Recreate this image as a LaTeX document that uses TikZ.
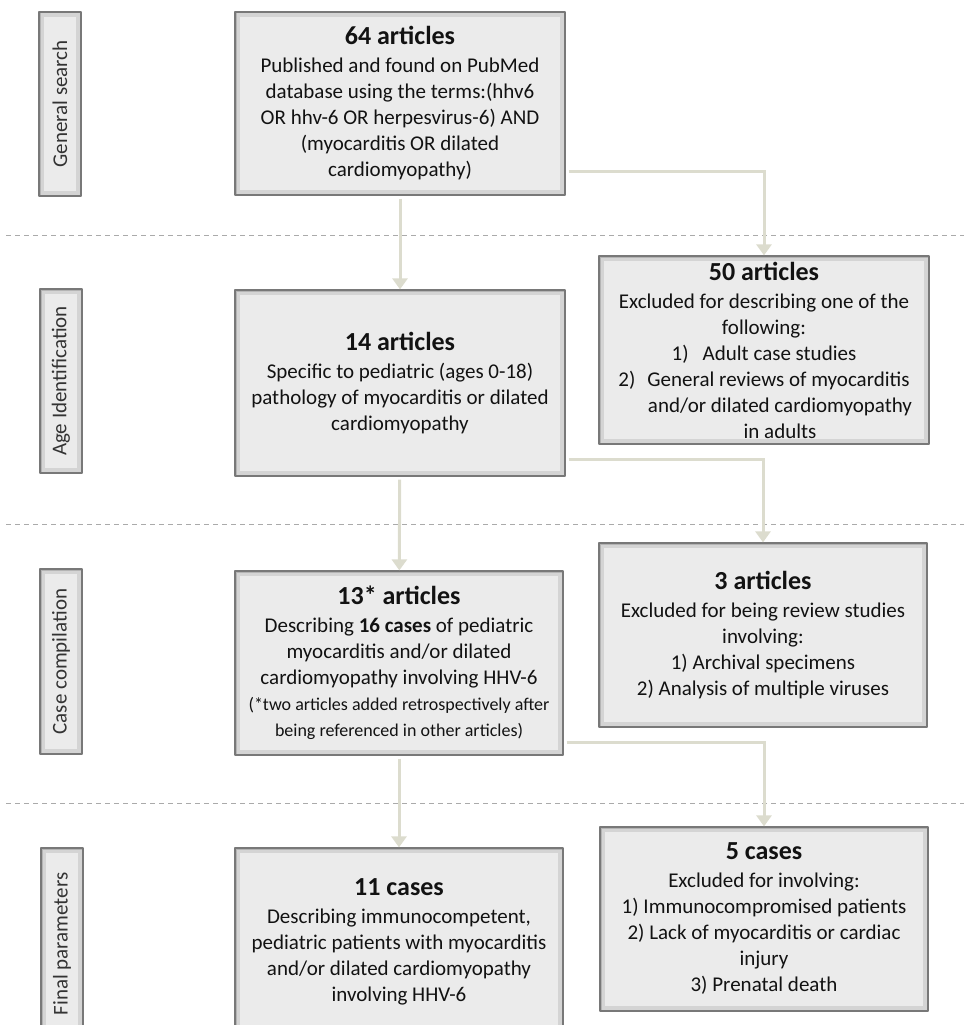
\documentclass[tikz,border=0pt]{standalone}
\usepackage{fontspec}
\setmainfont{Carlito}
\usetikzlibrary{arrows.meta}
\definecolor{boxfill}{RGB}{235,235,235}
\definecolor{boxline}{RGB}{120,120,120}
\definecolor{boxedge}{RGB}{212,212,212}
\definecolor{flowc}{RGB}{220,220,206}
\definecolor{sepc}{RGB}{170,170,170}
\definecolor{txt}{RGB}{18,18,18}
\newcommand{\ttl}[1]{{\fontsize{26}{29}\selectfont\bfseries #1}\\[2pt]}
\newcommand{\fnote}{\fontsize{18}{24}\selectfont}

\begin{document}
\begin{tikzpicture}[x=1pt,y=-1pt,line join=round,
  every node/.style={font=\fontsize{21}{26}\selectfont,text=txt},
  stage/.style={draw=boxline,line width=1.2pt,fill=boxfill,align=center,inner sep=0pt,
    path picture={\draw[boxedge,line width=10pt] (path picture bounding box.south west) rectangle (path picture bounding box.north east);
      \draw[boxedge!85!black,line width=3pt] (path picture bounding box.south west) rectangle (path picture bounding box.north east);}},
  mainbox/.style={stage,minimum width=330pt},
  sidebox/.style={stage,rotate=90,minimum height=42pt,text=black!80},
  flow/.style={flowc,line width=3pt,line join=miter,-{Triangle[length=11pt,width=15pt]}},
  sep/.style={sepc,line width=0.8pt,dash pattern=on 5pt off 4pt}]
  \clip (0,0) rectangle (964,1025);
  % stage separators
  \foreach \y in {235,524,803} \draw[sep] (6,\y) -- (964,\y);
  % stage labels
  \node[sidebox,minimum width=184pt] (lgen) at (60,104) {General search};
  \node[sidebox,minimum width=184pt] (lage) at (61,381) {Age Identification};
  \node[sidebox,minimum width=185pt] (lcase) at (61,661.5) {Case compilation};
  \node[sidebox,minimum width=192pt] (lfinal) at (62,944) {Final parameters};
  % kept articles
  \node[mainbox,minimum height=183pt] (n64) at (400,103.5) {\ttl{64 articles}Published and found on PubMed\\database using the terms:(hhv6\\OR hhv-6 OR herpesvirus-6) AND\\(myocarditis OR dilated\\cardiomyopathy)};
  \node[mainbox,minimum height=186pt] (n14) at (400,383) {\ttl{14 articles}Specific to pediatric (ages 0-18)\\pathology of myocarditis or dilated\\cardiomyopathy};
  \node[mainbox,minimum width=328pt,minimum height=184pt] (n13) at (399,663) {\ttl{13* articles}Describing \textbf{16 cases} of pediatric\\myocarditis and/or dilated\\cardiomyopathy involving HHV-6\\\fnote(*two articles added retrospectively after\\\fnote being referenced in other articles)};
  \node[mainbox,minimum width=328pt,minimum height=187pt] (n11) at (399,941.5) {\ttl{11 cases}Describing immunocompetent,\\pediatric patients with myocarditis\\and/or dilated cardiomyopathy\\involving HHV-6};
  % excluded
  \node[mainbox,minimum height=188pt] (n50) at (764,350) {\ttl{50 articles}Excluded for describing one of the\\following:\\1)\hspace{14pt}Adult case studies\\2)\hspace{12pt}General reviews of myocarditis\\\hspace*{32pt}and/or dilated cardiomyopathy\\\hspace*{32pt}in adults};
  \node[mainbox,minimum width=328pt,minimum height=184pt] (n3) at (763,635) {\ttl{3 articles}Excluded for being review studies\\involving:\\1) Archival specimens\\2) Analysis of multiple viruses};
  \node[mainbox,minimum width=328pt,minimum height=184pt] (n5) at (764,919) {\ttl{5 cases}Excluded for involving:\\1) Immunocompromised patients\\2) Lack of myocarditis or cardiac\\injury\\3) Prenatal death};
  % connectors
  \draw[flow,shorten <=3pt] (n64) -- (n14);
  \draw[flow,shorten <=3pt] (n14) -- (n13);
  \draw[flow,shorten <=3pt] (n13) -- (n11);
  \draw[flow] ([xshift=3pt,yshift=24pt]n64.south east) -| (n50.north);
  \draw[flow] ([xshift=3pt,yshift=17pt]n14.south east) -| (n3.north);
  \draw[flow] ([xshift=3pt,yshift=13pt]n13.south east) -| (n5.north);
\end{tikzpicture}
\end{document}
